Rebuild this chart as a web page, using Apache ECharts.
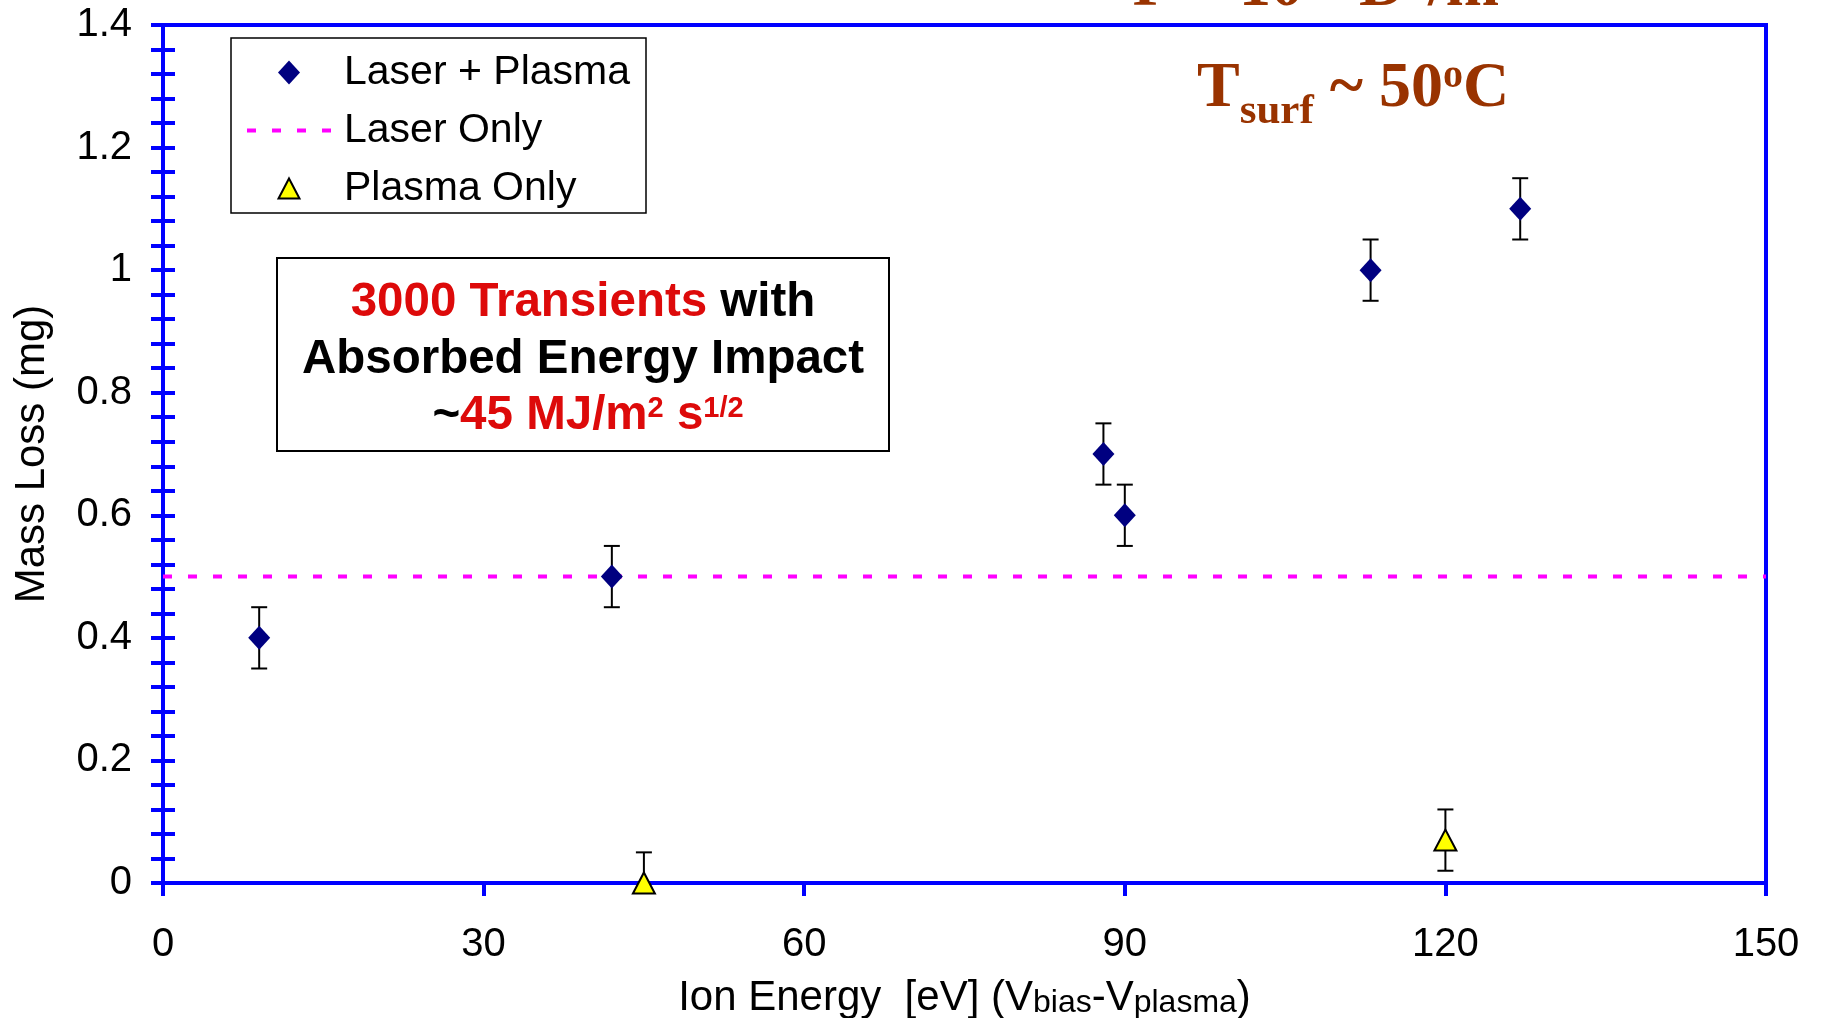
<!DOCTYPE html>
<html>
<head>
<meta charset="utf-8">
<title>Mass Loss vs Ion Energy</title>
<script src="https://cdn.jsdelivr.net/npm/echarts@6/dist/echarts.min.js"></script>
<style>
  html, body { margin: 0; padding: 0; background: #fff; }
  #main { width: 1822px; height: 1018px; }
</style>
</head>
<body>
<div id="main"></div>
<script>
// Laser + Plasma
var lpX = [9, 42, 88, 90, 113, 127];
var lpY = [0.4, 0.5, 0.7, 0.6, 1.0, 1.1];
var lpErr = [0.05, 0.05, 0.05, 0.05, 0.05, 0.05];
// Plasma Only
var poX = [45, 120];
var poY = [0, 0.07];
var poErr = [0.05, 0.05];
// Laser Only level
var loX = [0, 150];
var loY = [0.5, 0.5];

var xMin = 0, xMax = 150, xStep = 30;
var yMin = 0, yMax = 1.4, yStep = 0.2;

var blue = "#0000ff";
var red = "#dd0a0a";
var brown = "#993300";
var sans = "'Liberation Sans', Arial, sans-serif";
var serif = "'Liberation Serif', 'Times New Roman', serif";

function pairs(xs, ys) {
  return xs.map(function (x, i) { return [x, ys[i]]; });
}
function errRows(xs, ys, es) {
  return xs.map(function (x, i) { return [x, ys[i] - es[i], ys[i] + es[i]]; });
}

// vertical error bar with caps
function errorBar(params, api) {
  var lo = api.coord([api.value(0), api.value(1)]);
  var hi = api.coord([api.value(0), api.value(2)]);
  var w = 8;
  var st = { stroke: "#000", lineWidth: 2 };
  return {
    type: "group",
    children: [
      { type: "line", shape: { x1: lo[0], y1: lo[1], x2: hi[0], y2: hi[1] }, style: st },
      { type: "line", shape: { x1: lo[0] - w, y1: lo[1], x2: lo[0] + w, y2: lo[1] }, style: st },
      { type: "line", shape: { x1: hi[0] - w, y1: hi[1], x2: hi[0] + w, y2: hi[1] }, style: st }
    ]
  };
}

function yAxisCfg(inside) {
  return {
    type: "value",
    min: yMin,
    max: yMax,
    interval: yStep,
    position: "left",
    name: inside ? "" : "Mass Loss (mg)",
    nameLocation: "middle",
    nameGap: 110,
    nameTextStyle: { fontSize: 42, lineHeight: 42, color: "#000", fontFamily: sans },
    axisLine: { show: true, lineStyle: { color: blue, width: 4 } },
    axisTick: { show: true, inside: inside, length: 12, lineStyle: { color: blue, width: 4 } },
    minorTick: { show: true, splitNumber: 5, length: 12, lineStyle: { color: blue, width: 4 } },
    splitLine: { show: false },
    minorSplitLine: { show: false },
    axisLabel: { show: !inside, color: "#000", fontSize: 40, fontFamily: sans, margin: 31 }
  };
}

// rich text piece helper (no lineHeight, so padding shifts it up)
function piece(color, size, family, padBottom) {
  return {
    fill: color, fontSize: size, fontWeight: "bold", fontFamily: family,
    padding: [0, 0, padBottom, 0], verticalAlign: "bottom"
  };
}

var chart = echarts.init(document.getElementById("main"));

var option = {
  animation: false,
  backgroundColor: "#fff",
  grid: {
    left: 163, right: 56, top: 25, bottom: 135,
    outerBoundsMode: "none",
    containLabel: false,
    show: true, borderColor: blue, borderWidth: 4, backgroundColor: "transparent"
  },
  xAxis: {
    type: "value",
    min: xMin,
    max: xMax,
    interval: xStep,
    name: "Ion Energy  [eV] (V{s|bias}-V{s|plasma})",
    nameLocation: "middle",
    nameGap: 94,
    nameTextStyle: {
      fontSize: 42, lineHeight: 42, color: "#000", fontFamily: sans,
      rich: { s: { fontSize: 32, lineHeight: 32, color: "#000", fontFamily: sans, verticalAlign: "bottom" } }
    },
    axisLine: { lineStyle: { color: blue, width: 4 } },
    axisTick: { length: 13, lineStyle: { color: blue, width: 4 } },
    splitLine: { show: false },
    axisLabel: { color: "#000", fontSize: 40, fontFamily: sans, margin: 42 }
  },
  yAxis: [yAxisCfg(false), yAxisCfg(true)],
  legend: {
    orient: "vertical",
    left: 239,
    top: 52,
    itemWidth: 100,
    itemHeight: 26,
    itemGap: 17,
    padding: 0,
    selectedMode: false,
    textStyle: { fontSize: 41, lineHeight: 41, color: "#000", fontFamily: sans },
    data: [
      { name: "Laser + Plasma", icon: "path://M11,-1M11,0L22,12L11,24L0,12ZM11,25" },
      { name: "Laser Only", icon: "path://M-8,0M0,0h9v4h-9zM25,0h9v4h-9zM50,0h9v4h-9zM75,0h9v4h-9zM92,4" },
      { name: "Plasma Only", icon: "path://M10.5,-3M10.5,0L21,20L0,20ZM10.5,23" }
    ]
  },
  series: [
    {
      name: "Laser Only",
      type: "line",
      data: pairs(loX, loY),
      symbol: "none",
      silent: true,
      z: 2,
      itemStyle: { color: "#ff00ff" },
      lineStyle: { color: "#ff00ff", width: 4, type: [9, 16] }
    },
    {
      name: "lp-err",
      type: "custom",
      data: errRows(lpX, lpY, lpErr),
      encode: { x: 0, y: [1, 2] },
      renderItem: errorBar,
      clip: true,
      silent: true,
      z: 3
    },
    {
      name: "po-err",
      type: "custom",
      data: errRows(poX, poY, poErr),
      encode: { x: 0, y: [1, 2] },
      renderItem: errorBar,
      clip: true,
      silent: true,
      z: 3
    },
    {
      name: "Laser + Plasma",
      type: "scatter",
      data: pairs(lpX, lpY),
      symbol: "diamond",
      symbolSize: [22, 24],
      itemStyle: { color: "#000080", opacity: 1 },
      z: 4
    },
    {
      name: "Plasma Only",
      type: "scatter",
      data: pairs(poX, poY),
      symbol: "triangle",
      symbolSize: [22, 21],
      itemStyle: { color: "#ffff00", borderColor: "#000", borderWidth: 2, opacity: 1 },
      z: 4
    }
  ],
  graphic: [
    {
      type: "rect", silent: true, z: 3,
      shape: { x: 231, y: 38, width: 415, height: 175 },
      style: { fill: "#fff", stroke: "#000", lineWidth: 1.5 }
    },
    {
      type: "rect", silent: true, z: 3,
      shape: { x: 277, y: 258, width: 612, height: 193 },
      style: { fill: "#fff", stroke: "#000", lineWidth: 2 }
    },
    {
      type: "text", silent: true, z: 5,
      style: {
        x: 583, y: 303, align: "center", verticalAlign: "middle",
        text: "{r|3000 Transients}{k| with}",
        rich: { r: piece(red, 47.5, sans, 0), k: piece("#000", 47.5, sans, 0) }
      }
    },
    {
      type: "text", silent: true, z: 5,
      style: {
        x: 583, y: 360, align: "center", verticalAlign: "middle",
        text: "Absorbed Energy Impact",
        fill: "#000", fontSize: 47.5, fontWeight: "bold", fontFamily: sans
      }
    },
    {
      type: "text", silent: true, z: 5,
      style: {
        x: 588, y: 416, align: "center", verticalAlign: "middle",
        text: "{k|~}{r|45 MJ/m}{rs|2}{r| s}{rs|1/2}",
        rich: { r: piece(red, 47.5, sans, 0), k: piece("#000", 47.5, sans, 0), rs: piece(red, 29, sans, 17) }
      }
    },
    {
      type: "text", silent: true, z: 5,
      style: {
        x: 1197, y: 57, align: "left", verticalAlign: "top",
        text: "{m|T}{sub|surf}{m| ~ 50}{sup|o}{m|C}",
        rich: { m: piece(brown, 64, serif, 20), sub: piece(brown, 43, serif, 8), sup: piece(brown, 40, serif, 44) }
      }
    },
    {
      type: "text", silent: true, z: 5,
      style: {
        x: 1133, y: -44, align: "left", verticalAlign: "top",
        text: "{m|\u0393 ~ 10}{sup|22}{m| D}{sup|+}{m|/m}{sup|2}",
        rich: { m: piece(brown, 64, serif, 20), sup: piece(brown, 40, serif, 44) }
      }
    }
  ]
};

chart.setOption(option);
</script>
</body>
</html>
